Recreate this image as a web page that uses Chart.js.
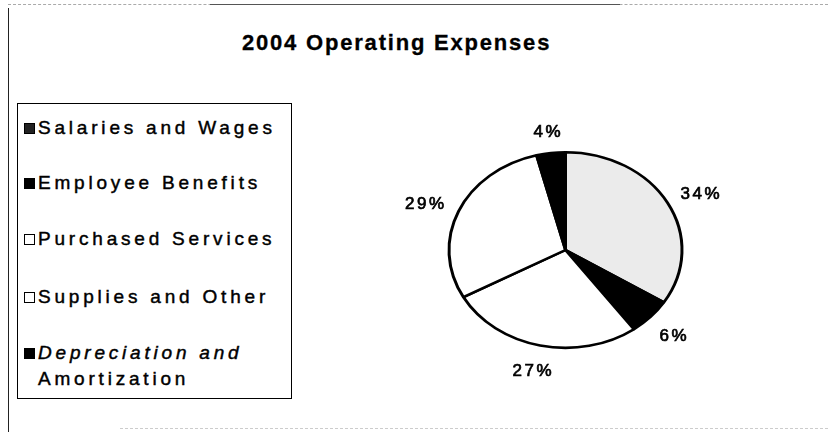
<!DOCTYPE html>
<html>
<head>
<meta charset="utf-8">
<script src="https://cdn.jsdelivr.net/npm/chart.js@4.4.1/dist/chart.umd.min.js"></script>
<style>
  html, body { margin:0; padding:0; background:#fff; }
  body { width:828px; height:432px; position:relative; overflow:hidden;
         font-family:"Liberation Sans", Arial, sans-serif; color:#000; }
  #frameL { position:absolute; left:8px; top:8px; width:0; height:424px; border-left:1.5px solid #222; }
  #frameT { position:absolute; left:8px; top:4px; width:820px; height:0; border-top:1px dashed #aaa; }
  #frameT2 { position:absolute; left:210px; top:4px; width:410px; height:0; border-top:1.5px solid #555; }
  #frameB { position:absolute; left:120px; top:428px; width:708px; height:0; border-top:1px dashed #ccc; }
  #title { position:absolute; left:242px; top:32px; font-size:22px; font-weight:bold;
           letter-spacing:1.8px; line-height:22px; white-space:nowrap; -webkit-text-stroke:0.3px #000; }
  #legend { position:absolute; left:17px; top:103px; width:275px; height:296px;
            box-sizing:border-box; border:1.5px solid #000; }
  .item { position:absolute; left:6px; font-size:19px; letter-spacing:3.8px; line-height:26px; white-space:nowrap;
          -webkit-text-stroke:0.45px #000; }
  .mk { position:absolute; left:0; top:8px; width:11px; height:11px; box-sizing:border-box; border:1.5px solid #000; }
  .txt { position:absolute; left:14px; top:0; }
  #c { position:absolute; left:0; top:0; }
</style>
</head>
<body>
<div id="frameT"></div>
<div id="frameT2"></div>
<div id="frameL"></div>
<div id="frameB"></div>
<div id="title"></div>
<div id="legend"></div>
<canvas id="c" width="828" height="432"></canvas>
<script>
// ---- data ----
const chartTitle = "2004 Operating Expenses";
const categories = ["Salaries and Wages", "Employee Benefits", "Purchased Services", "Supplies and Other", "Depreciation and Amortization"];
const legendLines = [["Salaries and Wages"], ["Employee Benefits"], ["Purchased Services"], ["Supplies and Other"], ["Depreciation and", "Amortization"]];
const percentValues = [34, 6, 27, 29, 4];
const percentLabels = ["34%", "6%", "27%", "29%", "4%"];

// ---- styles ----
const sliceColors = ["#ebebeb", "#000000", "#ffffff", "#ffffff", "#000000"];
const markerColors = ["#222222", "#000000", "#ffffff", "#ffffff", "#000000"];
const legendRowTops = [115, 170, 226, 284, 340];
const SQUASH = 0.84;

document.getElementById('title').textContent = chartTitle;

const legend = document.getElementById('legend');
legendLines.forEach((lines, i) => {
  const it = document.createElement('div');
  it.className = 'item';
  it.style.top = (legendRowTops[i] - 103 - 1.5) + 'px';
  const mk = document.createElement('div');
  mk.className = 'mk';
  mk.style.background = markerColors[i];
  it.appendChild(mk);
  const tx = document.createElement('div');
  tx.className = 'txt';
  tx.innerHTML = lines.map((l, j) => (i === 4 && j === 0) ? '<i>' + l + '</i>' : l).join('<br>');
  it.appendChild(tx);
  legend.appendChild(it);
});

const ellipsePlugin = {
  id: 'ellipse',
  beforeDatasetsDraw(chart) {
    const a = chart.getDatasetMeta(0).data[0];
    const ctx = chart.ctx;
    ctx.save();
    ctx.translate(a.x, a.y);
    ctx.scale(1, SQUASH);
    ctx.translate(-a.x, -a.y);
  },
  afterDatasetsDraw(chart) {
    const ctx = chart.ctx;
    ctx.restore();
    const meta = chart.getDatasetMeta(0);
    ctx.save();
    ctx.font = '17px "Liberation Sans", Arial, sans-serif';
    if ('letterSpacing' in ctx) ctx.letterSpacing = '2.5px';
    ctx.fillStyle = '#000';
    ctx.strokeStyle = '#000';
    ctx.lineWidth = 0.7;
    ctx.textAlign = 'center';
    ctx.textBaseline = 'middle';
    meta.data.forEach((arc, i) => {
      const mid = (arc.startAngle + arc.endAngle) / 2;
      const c = Math.cos(mid), s = Math.sin(mid);
      const r = arc.outerRadius * 1.14;
      const w = ctx.measureText(percentLabels[i]).width;
      const x = arc.x + c * r + c * w / 2 + 1.25;
      const y = arc.y + s * r * SQUASH + s * 10 + 3;
      ctx.fillText(percentLabels[i], x, y);
      ctx.strokeText(percentLabels[i], x, y);
    });
    ctx.restore();
  }
};

new Chart(document.getElementById('c'), {
  type: 'pie',
  data: {
    labels: categories,
    datasets: [{
      data: percentValues,
      backgroundColor: sliceColors,
      borderColor: '#000',
      borderWidth: 3,
      hoverOffset: 0,
      offset: 0
    }]
  },
  options: {
    responsive: false,
    animation: false,
    events: [],
    layout: { padding: { left: 447, right: 144, top: 132, bottom: 64 } },
    plugins: { legend: { display: false }, title: { display: false }, tooltip: { enabled: false } }
  },
  plugins: [ellipsePlugin]
});
</script>
</body>
</html>
